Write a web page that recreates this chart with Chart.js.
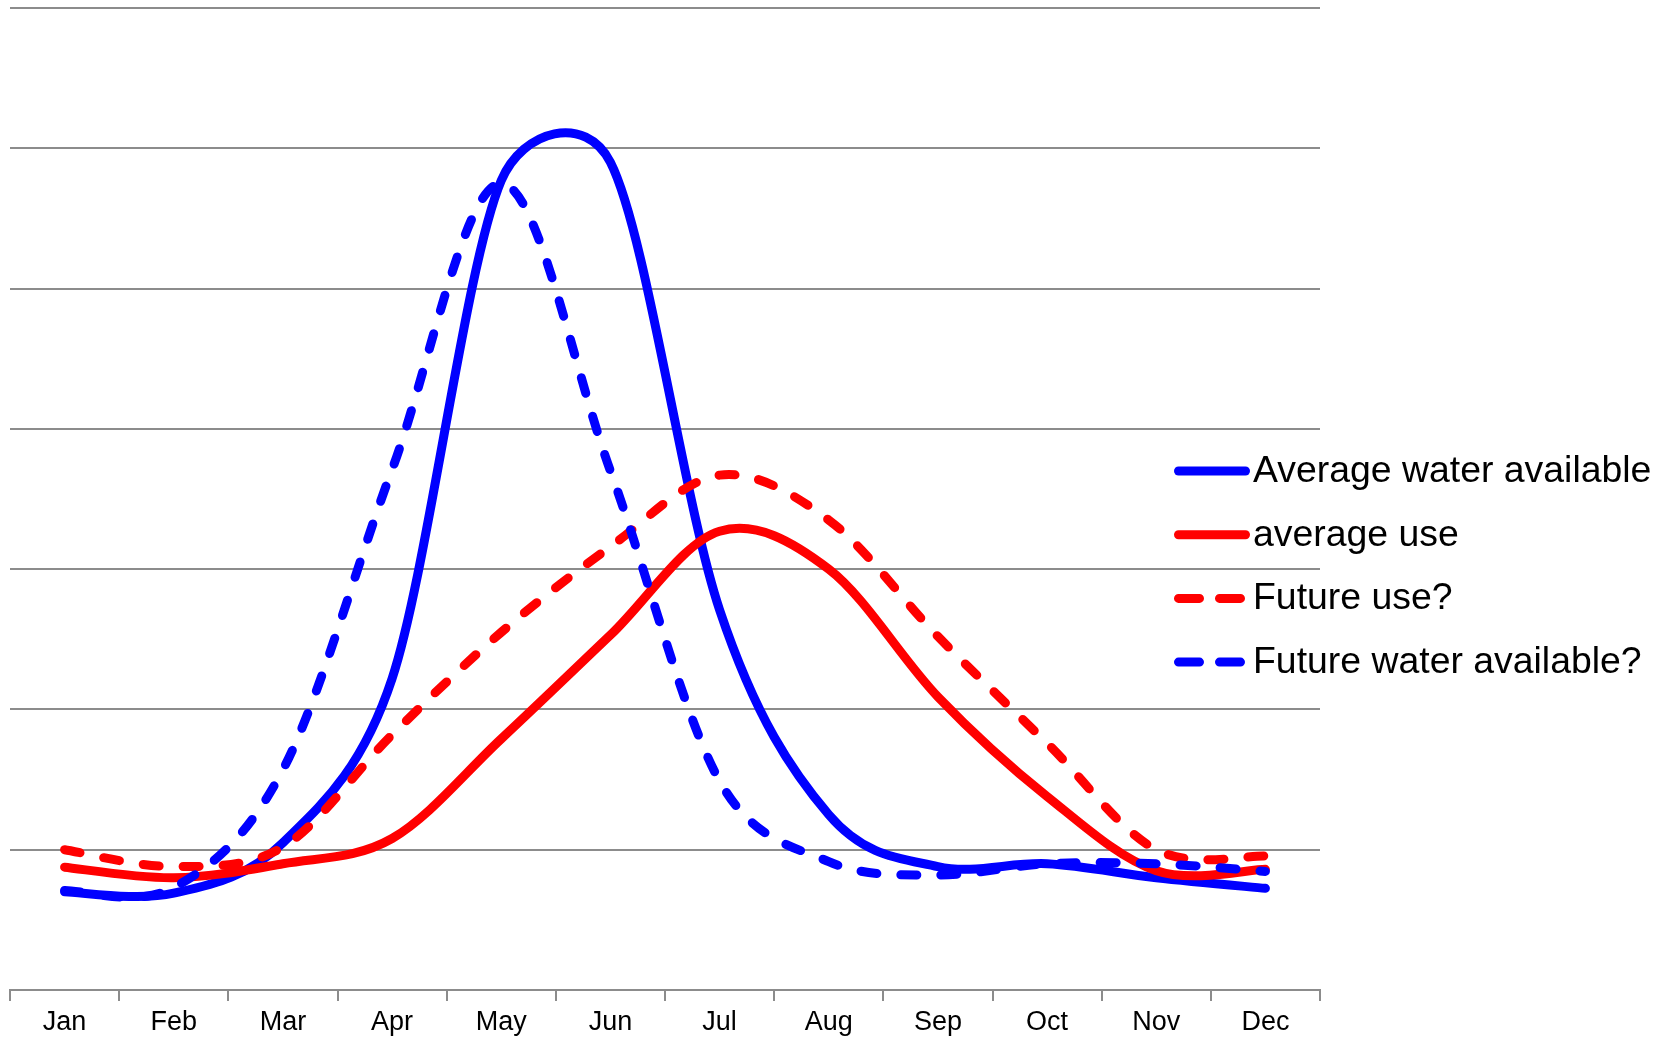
<!DOCTYPE html>
<html>
<head>
<meta charset="utf-8">
<script src="https://cdn.jsdelivr.net/npm/chart.js@4.4.1/dist/chart.umd.min.js"></script>
<style>
  html, body { margin: 0; padding: 0; background: #ffffff; }
  #wrap { width: 1675px; height: 1038px; }
</style>
</head>
<body>
<div id="wrap"><canvas id="c" width="1675" height="1038"></canvas></div>
<script>
// Monthly water supply and demand
const months = ['Jan', 'Feb', 'Mar', 'Apr', 'May', 'Jun', 'Jul', 'Aug', 'Sep', 'Oct', 'Nov', 'Dec'];
const avgWater    = [0.70, 0.69, 1.05, 2.22, 5.77, 5.90, 2.71, 1.25, 0.88, 0.90, 0.80, 0.725];
const avgUse      = [0.875, 0.80, 0.90, 1.08, 1.79, 2.53, 3.27, 3.00, 2.09, 1.38, 0.85, 0.86];
const futureUse   = [1.00, 0.88, 1.02, 1.82, 2.55, 3.16, 3.67, 3.35, 2.52, 1.76, 1.00, 0.955];
const futureWater = [0.71, 0.73, 1.57, 3.71, 5.75, 3.70, 1.49, 0.915, 0.82, 0.90, 0.90, 0.845];
const yTicks = [0, 1, 2, 3, 4, 5, 6, 7];

const BLUE = '#0000ff';
const RED = '#ff0000';
const GRID = '#8c8c8c';
const FONT = "'Liberation Sans', Arial, Helvetica, sans-serif";

function series(label, data, color, dashed, order) {
  return {
    label, data,
    borderColor: color,
    backgroundColor: color,
    borderWidth: 9,
    borderDash: dashed ? [16, 24] : [],
    borderCapStyle: 'round',
    borderJoinStyle: 'round',
    pointRadius: 0,
    pointHoverRadius: 0,
    tension: 0.4,
    fill: false,
    order
  };
}

// Spreadsheet-style smoothing: each control arm points along (next - prev),
// one sixth of that chord long, but never longer than half its own segment.
const sheetSmoothing = {
  id: 'sheetSmoothing',
  beforeDatasetDraw(chart, args) {
    const meta = args.meta;
    const pts = meta.data;
    const n = pts.length;
    for (let i = 0; i < n; i++) {
      const p = pts[i];
      const prev = pts[Math.max(i - 1, 0)];
      const next = pts[Math.min(i + 1, n - 1)];
      const tx = next.x - prev.x, ty = next.y - prev.y;
      const tl = Math.hypot(tx, ty) || 1;
      const dPrev = Math.hypot(p.x - prev.x, p.y - prev.y);
      const dNext = Math.hypot(next.x - p.x, next.y - p.y);
      const aPrev = Math.min(tl / 6, dPrev / 2);
      const aNext = Math.min(tl / 6, dNext / 2);
      p.cp1x = p.x - tx / tl * aPrev;
      p.cp1y = p.y - ty / tl * aPrev;
      p.cp2x = p.x + tx / tl * aNext;
      p.cp2y = p.y + ty / tl * aNext;
    }
    meta.dataset._pointsUpdated = true;
    meta.dataset._path = undefined;
  }
};

// Legend drawn beside the plot, overlapping its right end
const sideLegend = {
  id: 'sideLegend',
  afterDraw(chart) {
    const ctx = chart.ctx;
    const lineStart = 1178.5, lineEnd = 1245.5, textX = 1253;
    const firstY = 471, step = 63.7;
    ctx.save();
    chart.data.datasets.forEach((ds, i) => {
      const y = firstY + i * step;
      ctx.beginPath();
      ctx.lineWidth = ds.borderWidth;
      ctx.strokeStyle = ds.borderColor;
      ctx.lineCap = 'round';
      ctx.setLineDash(ds.borderDash.length ? [21, 20] : []);
      ctx.moveTo(lineStart, y);
      ctx.lineTo(lineEnd, y);
      ctx.stroke();
      ctx.setLineDash([]);
      ctx.fillStyle = '#000000';
      ctx.font = '37.4px ' + FONT;
      ctx.textBaseline = 'middle';
      ctx.textAlign = 'left';
      ctx.fillText(ds.label, textX, y + 0.5);
    });
    ctx.restore();
  }
};

new Chart(document.getElementById('c'), {
  type: 'line',
  data: {
    labels: months,
    datasets: [
      series('Average water available', avgWater, BLUE, false, 3),
      series('average use', avgUse, RED, false, 2),
      series('Future use?', futureUse, RED, true, 1),
      series('Future water available?', futureWater, BLUE, true, 0)
    ]
  },
  options: {
    responsive: false,
    animation: false,
    layout: { padding: { left: 10, right: 355, top: 8, bottom: 0 } },
    plugins: { legend: { display: false }, tooltip: { enabled: false } },
    scales: {
      x: {
        type: 'category',
        offset: true,
        grid: { display: true, offset: true, drawOnChartArea: false, drawTicks: true, tickLength: 11, color: GRID, lineWidth: 2 },
        border: { display: true, color: GRID, width: 2 },
        ticks: { color: '#000000', font: { family: FONT, size: 27 }, padding: 5, maxRotation: 0, autoSkip: false },
        afterFit(scale) { scale.height = 48; }
      },
      y: {
        min: yTicks[0],
        max: yTicks[yTicks.length - 1],
        ticks: { display: false, stepSize: 1 },
        grid: { color: GRID, lineWidth: 2, drawTicks: false },
        border: { display: false },
        afterFit(scale) { scale.width = 0; }
      }
    }
  },
  plugins: [sheetSmoothing, sideLegend]
});
</script>
</body>
</html>
